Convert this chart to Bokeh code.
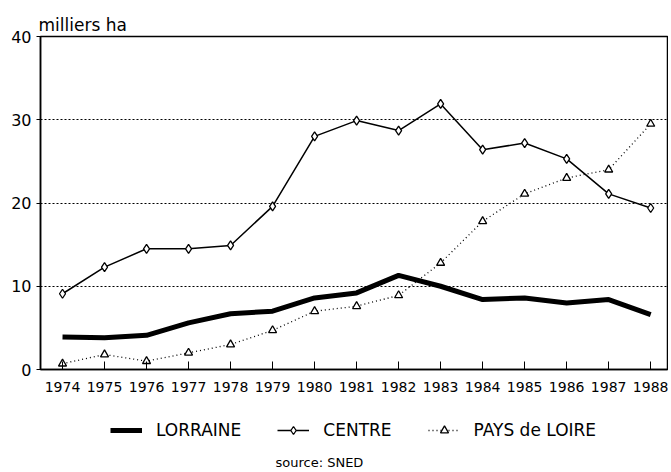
from bokeh.plotting import figure
from bokeh.layouts import column
from bokeh.models import Legend, LegendItem, Label, FixedTicker, Range1d
from bokeh.embed import file_html
from bokeh.resources import INLINE

years = list(range(1974, 1989))
lorraine = [3.9, 3.8, 4.1, 5.6, 6.7, 7.0, 8.6, 9.2, 11.3, 10.0, 8.4, 8.6, 8.0, 8.4, 6.6]
centre = [9.1, 12.3, 14.5, 14.5, 14.9, 19.6, 28.0, 29.9, 28.7, 31.9, 26.4, 27.2, 25.3, 21.1, 19.4]
pays_loire = [0.7, 1.8, 1.0, 2.0, 3.0, 4.7, 7.0, 7.6, 8.9, 12.8, 17.8, 21.1, 23.0, 24.0, 29.5]
y_ticks = [0, 10, 20, 30, 40]
series_names = ["LORRAINE", "CENTRE", "PAYS de LOIRE"]
FONT = "DejaVu Sans"

p = figure(width=668, height=400, output_backend="svg", toolbar_location=None,
           x_range=Range1d(1973.476, 1988.4), y_range=Range1d(0, 40),
           min_border_left=40, min_border_right=1, min_border_top=36, min_border_bottom=31)

p.title.text = "milliers ha"
p.title.text_font = FONT
p.title.text_font_size = "17px"
p.title.text_font_style = "normal"
p.title.text_color = "black"
p.title.align = "left"
p.title.offset = -2
p.title.standoff = 4

p.outline_line_color = "black"
p.outline_line_width = 1.5
p.xgrid.grid_line_color = None
p.ygrid.grid_line_color = "black"
p.ygrid.grid_line_dash = "2 2"
p.ygrid.grid_line_width = 1.2
p.ygrid.ticker = FixedTicker(ticks=[10, 20, 30])

p.xaxis.ticker = FixedTicker(ticks=years)
p.xaxis.major_tick_in = 8
p.xaxis.major_tick_out = 0
p.xaxis.minor_tick_line_color = None
p.xaxis.axis_line_width = 1.5
p.xaxis.major_label_text_font = FONT
p.xaxis.major_label_text_font_size = "14px"
p.xaxis.major_label_text_color = "black"
p.xaxis.major_label_standoff = 12

p.yaxis.ticker = FixedTicker(ticks=y_ticks)
p.yaxis.major_tick_in = 0
p.yaxis.major_tick_out = 4
p.yaxis.minor_tick_line_color = None
p.yaxis.axis_line_width = 1.5
p.yaxis.major_label_text_font = FONT
p.yaxis.major_label_text_font_size = "16px"
p.yaxis.major_label_text_color = "black"
p.yaxis.major_label_standoff = 5

LOR = dict(line_color="black", line_width=5)
CEN = dict(line_color="black", line_width=1.5)
CEN_M = dict(marker="diamond", size=9, fill_color="white", line_color="black", line_width=1.3)
PAY = dict(line_color="black", line_width=1.3, line_dash="1 3")
PAY_M = dict(marker="triangle", size=8, fill_color="white", line_color="black", line_width=1.3)

p.line(years, lorraine, **LOR)
p.line(years, centre, **CEN)
p.scatter(years, centre, **CEN_M)
p.line(years, pays_loire, **PAY)
p.scatter(years, pays_loire, **PAY_M)

# legend strip (second figure, no axes); its key glyphs sit outside the visible range
p2 = figure(width=668, height=70, output_backend="svg", toolbar_location=None,
            x_range=Range1d(0, 1), y_range=Range1d(0, 1),
            min_border_left=0, min_border_right=0, min_border_top=0, min_border_bottom=0)
p2.axis.visible = False
p2.grid.visible = False
p2.outline_line_color = None
off = [-5, -4]
l1 = p2.line(off, off, **LOR)
l2 = p2.line(off, off, **CEN)
l2m = p2.scatter(off, off, **CEN_M)
l3 = p2.line(off, off, **PAY)
l3m = p2.scatter(off, off, **PAY_M)

legend = Legend(items=[
    LegendItem(label=series_names[0], renderers=[l1]),
    LegendItem(label=series_names[1], renderers=[l2, l2m]),
    LegendItem(label=series_names[2], renderers=[l3, l3m]),
], orientation="horizontal", location=(70, 30), border_line_color=None,
    background_fill_alpha=0, label_text_font=FONT, label_text_font_size="17px",
    label_text_color="black",
    glyph_width=32, glyph_height=20, label_standoff=14, spacing=36, padding=0, margin=0)
p2.add_layout(legend, "center")

p2.add_layout(Label(x=235, y=8, x_units="screen", y_units="screen", text="source: SNED",
                    text_font=FONT, text_font_size="13px", text_align="left",
                    text_baseline="middle", text_color="black"))

layout = column(p, p2, spacing=0)
open("out.html", "w").write(file_html(layout, INLINE))
